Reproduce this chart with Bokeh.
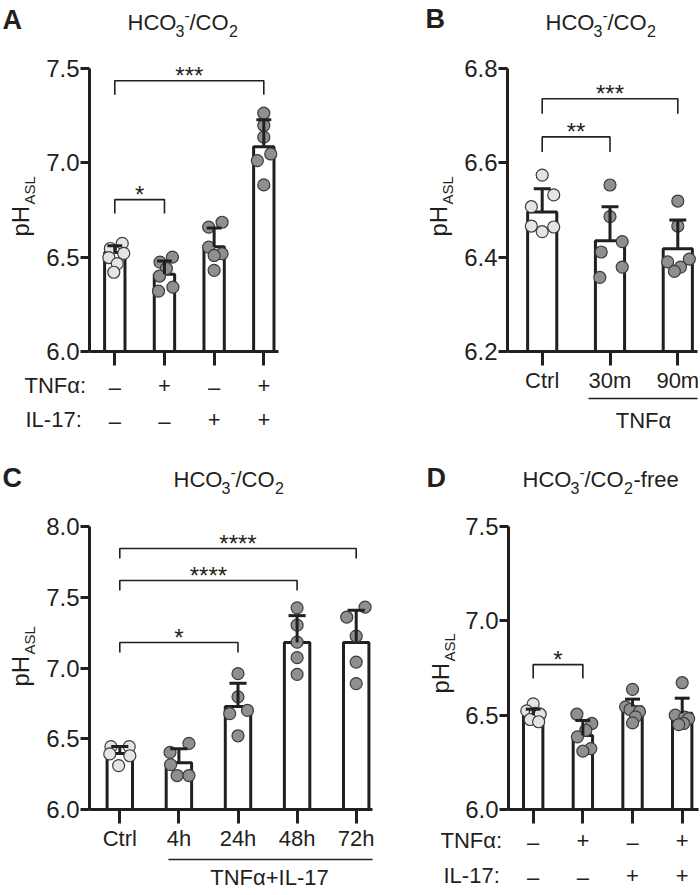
import numpy as np
from bokeh.plotting import figure
from bokeh.models import Range1d, FixedTicker, Label, NumeralTickFormatter
from bokeh.layouts import row, column
from bokeh.embed import file_html
from bokeh.resources import INLINE

FONT = "Liberation Sans"
INK = "#231f20"
LIGHT_FILL = "#e4e4e4"
DARK_FILL = "#8f8f8f"
DOT_LINE = "#3c3c3c"
MID = 0.3465  # em-box middle above the alphabetic baseline (Liberation Sans)

# ---------------- data ----------------
# Panel A
A_tnf = ["–", "+", "–", "+"]
A_il17 = ["–", "–", "+", "+"]
A_mean = [6.525, 6.410, 6.555, 7.085]
A_sd = [0.035, 0.070, 0.100, 0.143]
A_points = [
    [6.573, 6.546, 6.520, 6.498, 6.466, 6.420],
    [6.500, 6.474, 6.440, 6.400, 6.341, 6.320],
    [6.685, 6.659, 6.553, 6.518, 6.509, 6.430],
    [7.263, 7.198, 7.136, 7.047, 7.012, 6.883],
]
A_jitter = [
    [0.15, -0.09, 0.18, -0.12, 0.05, -0.02],
    [0.16, -0.09, 0.04, -0.10, 0.17, -0.12],
    [0.16, -0.11, -0.11, 0.16, 0.00, 0.00],
    [0.00, 0.00, 0.00, 0.14, -0.13, 0.00],
]
A_sig = [(1, 2, "*"), (1, 4, "***")]
A_yticks = [6.0, 6.5, 7.0, 7.5]

# Panel B
B_labels = ["Ctrl", "30m", "90m"]
B_mean = [6.496, 6.435, 6.418]
B_sd = [0.049, 0.072, 0.061]
B_points = [
    [6.574, 6.532, 6.507, 6.466, 6.454, 6.464],
    [6.553, 6.486, 6.433, 6.411, 6.379, 6.357],
    [6.519, 6.466, 6.396, 6.390, 6.379, 6.370],
]
B_jitter = [
    [0.00, 0.17, -0.16, -0.16, 0.00, 0.17],
    [0.00, 0.00, 0.18, -0.13, 0.18, -0.15],
    [0.00, 0.00, 0.17, -0.15, 0.04, -0.05],
]
B_sig = [(1, 2, "**"), (1, 3, "***")]
B_yticks = [6.2, 6.4, 6.6, 6.8]

# Panel C
C_labels = ["Ctrl", "4h", "24h", "48h", "72h"]
C_mean = [6.395, 6.330, 6.728, 7.180, 7.180]
C_sd = [0.050, 0.100, 0.165, 0.190, 0.228]
C_points = [
    [6.444, 6.444, 6.393, 6.380, 6.310],
    [6.467, 6.404, 6.317, 6.240, 6.240],
    [6.960, 6.796, 6.700, 6.678, 6.521],
    [7.425, 7.303, 7.183, 7.073, 6.955],
    [7.430, 7.359, 7.225, 7.042, 6.890],
]
C_jitter = [
    [-0.15, 0.16, -0.17, 0.17, -0.02],
    [0.17, -0.15, -0.14, -0.03, 0.17],
    [0.00, 0.00, 0.16, -0.14, 0.00],
    [0.00, 0.00, 0.00, 0.00, 0.00],
    [0.15, -0.16, 0.00, 0.00, 0.00],
]
C_sig = [(1, 3, "*"), (1, 4, "****"), (1, 5, "****")]
C_yticks = [6.0, 6.5, 7.0, 7.5, 8.0]

# Panel D
D_tnf = ["–", "+", "–", "+"]
D_il17 = ["–", "–", "+", "+"]
D_mean = [6.500, 6.392, 6.545, 6.510]
D_sd = [0.032, 0.080, 0.040, 0.080]
D_points = [
    [6.560, 6.523, 6.510, 6.505, 6.477, 6.465],
    [6.505, 6.456, 6.420, 6.385, 6.323, 6.309],
    [6.637, 6.544, 6.530, 6.518, 6.491, 6.459],
    [6.672, 6.500, 6.490, 6.482, 6.456, 6.450],
]
D_jitter = [
    [0.00, -0.13, 0.04, 0.14, -0.06, 0.11],
    [-0.12, 0.18, 0.06, -0.11, 0.16, 0.00],
    [0.00, -0.14, -0.05, 0.14, 0.06, 0.00],
    [0.00, -0.14, 0.05, 0.13, 0.03, -0.07],
]
D_sig = [(1, 2, "*")]
D_yticks = [6.0, 6.5, 7.0, 7.5]


# ---------------- layout geometry (page pixels) ----------------
class Geo:
    """Maps page pixels to data units for a figure whose frame fills its canvas."""
    def __init__(self, ox, oy, W, H, first_px, last_px, n, axis_top, axis_bottom, yr,
                 axis_left, axis_right):
        self.ox, self.oy, self.W, self.H = ox, oy, W, H
        self.first = first_px
        self.sp = (last_px - first_px) / (n - 1)
        self.y0, self.y1 = yr
        self.axis_bottom = axis_bottom
        self.ppu = (axis_bottom - axis_top) / (self.y1 - self.y0)
        self.axis_left, self.axis_right = axis_left, axis_right

    def X(self, px):
        return 1 + (px - self.first) / self.sp

    def Y(self, py):
        return self.y0 + (self.axis_bottom - py) / self.ppu


def label(p, g, px, py, text, size, align="left", bold=False, rotated=False):
    """px, py: start/center x and alphabetic baseline (page px)."""
    if rotated:
        ax, ay, angle = px - MID * size, py, np.pi / 2
    else:
        ax, ay, angle = px, py - MID * size, 0.0
    p.add_layout(Label(x=g.X(ax), y=g.Y(ay), x_units="data", y_units="data", text=text,
                       text_font=FONT, text_font_size=f"{size}px",
                       text_font_style="bold" if bold else "normal",
                       text_align=align, text_baseline="middle", angle=angle,
                       text_color=INK))


def title(p, g, px, py, free=False):
    label(p, g, px, py, "HCO", 22)
    label(p, g, px + 48, py + 6, "3", 16)
    label(p, g, px + 57, py - 10, "-", 16)
    label(p, g, px + 62, py, "/CO", 22)
    label(p, g, px + 101.5, py + 6, "2", 16)
    if free:
        label(p, g, px + 111, py, "-free", 22)


def ph_label(p, g, px, py):
    label(p, g, px, py, "pH", 24, rotated=True)
    label(p, g, px + 6, py - 32, "ASL", 15, rotated=True)


def build(g, yticks, means, sds, points, jitter, sig, brk_y, drop_px, bar_w, cap_h, xlabels=None):
    n = len(means)
    cats = list(range(1, n + 1))
    p = figure(width=g.W, height=g.H, output_backend="svg", toolbar_location=None,
               x_range=Range1d(g.X(g.ox), g.X(g.ox + g.W)),
               y_range=Range1d(g.Y(g.oy + g.H), g.Y(g.oy)),
               min_border=0, min_border_left=0, min_border_right=0,
               min_border_top=0, min_border_bottom=0)
    p.title.visible = False
    p.outline_line_color = None
    p.xgrid.visible = False
    p.ygrid.visible = False
    p.background_fill_color = "white"
    p.border_fill_color = "white"

    ya = p.yaxis[0]
    ya.fixed_location = g.X(g.axis_left)
    ya.bounds = (g.y0, g.y1)
    ya.ticker = FixedTicker(ticks=yticks)
    ya.formatter = NumeralTickFormatter(format="0.0")
    ya.axis_line_width = 3
    ya.axis_line_color = INK
    ya.major_tick_line_width = 3
    ya.major_tick_line_color = INK
    ya.major_tick_in = 0
    ya.major_tick_out = 9
    ya.minor_tick_line_color = None
    ya.major_label_text_font = FONT
    ya.major_label_text_font_size = "24px"
    ya.major_label_text_color = INK
    ya.major_label_standoff = 1

    xa = p.xaxis[0]
    xa.fixed_location = g.y0
    xa.bounds = (g.X(g.axis_left), g.X(g.axis_right))
    xa.ticker = FixedTicker(ticks=cats)
    xa.axis_line_width = 3
    xa.axis_line_color = INK
    xa.major_tick_line_width = 3
    xa.major_tick_line_color = INK
    xa.major_tick_in = 0
    xa.major_tick_out = 14
    xa.minor_tick_line_color = None
    xa.major_label_text_font = FONT
    xa.major_label_text_font_size = "22px"
    xa.major_label_text_color = INK
    xa.major_label_standoff = 2
    if xlabels is None:
        xa.major_label_overrides = {c: "" for c in cats}
    else:
        xa.major_label_overrides = {c: t for c, t in zip(cats, xlabels)}

    p.vbar(x=cats, top=means, bottom=g.y0, width=bar_w, fill_color="white",
           line_color=INK, line_width=3)
    for i, (vals, jit) in enumerate(zip(points, jitter)):
        xs = [cats[i] + j for j in jit]
        p.scatter(xs, vals, size=12, marker="circle",
                  fill_color=LIGHT_FILL if i == 0 else DARK_FILL,
                  line_color=DOT_LINE, line_width=1.2)
    tops = [m + s for m, s in zip(means, sds)]
    p.segment(x0=cats, y0=means, x1=cats, y1=tops, line_color=INK, line_width=3)
    p.segment(x0=[c - cap_h for c in cats], y0=tops, x1=[c + cap_h for c in cats], y1=tops,
              line_color=INK, line_width=3)

    drop = drop_px / g.ppu
    for (a, b, stars), y in zip(sig, brk_y):
        p.multi_line(xs=[[a, a, b, b]], ys=[[y - drop, y, y, y - drop]],
                     line_color=INK, line_width=1.6)
        p.add_layout(Label(x=(a + b) / 2, y=y + 5 / g.ppu, text=stars, text_font=FONT,
                           text_font_size="24px", text_align="center",
                           text_baseline="middle", text_color=INK))
    return p


def underline(p, g, px0, px1, py):
    p.segment(x0=[g.X(px0)], y0=[g.Y(py)], x1=[g.X(px1)], y1=[g.Y(py)],
              line_color=INK, line_width=1.5)


def cat_px(g, i):
    return g.first + i * g.sp


# ---------------- Panel A ----------------
gA = Geo(0, 0, 350, 446, 114.3, 263.3, 4, 68, 351, (6.0, 7.5), 89, 278)
pA = build(gA, A_yticks, A_mean, A_sd, A_points, A_jitter, A_sig, [6.805, 7.435], 14, 0.41, 0.15)
label(pA, gA, 2, 29, "A", 27, bold=True)
title(pA, gA, 127, 30)
ph_label(pA, gA, 28, 236)
label(pA, gA, 24, 393, "TNFα:", 22)
label(pA, gA, 25, 427, "IL-17:", 22)
for i, (s1, s2) in enumerate(zip(A_tnf, A_il17)):
    label(pA, gA, cat_px(gA, i), 393 + (2 if s1 == "–" else 0), s1, 22, align="center")
    label(pA, gA, cat_px(gA, i), 427 + (2 if s2 == "–" else 0), s2, 22, align="center")

# ---------------- Panel B ----------------
gB = Geo(350, 0, 350, 446, 541.7, 677.3, 3, 68, 351, (6.2, 6.8), 507, 697)
pB = build(gB, B_yticks, B_mean, B_sd, B_points, B_jitter, B_sig, [6.655, 6.736], 15, 0.43, 0.125,
           xlabels=B_labels)
label(pB, gB, 425, 28, "B", 27, bold=True)
title(pB, gB, 545, 30)
ph_label(pB, gB, 446, 236)
underline(pB, gB, 588, 697, 398)
label(pB, gB, 643, 428, "TNFα", 22, align="center")

# ---------------- Panel C ----------------
gC = Geo(0, 446, 400, 447, 119.3, 355.7, 5, 526, 809, (6.0, 8.0), 89, 372)
pC = build(gC, C_yticks, C_mean, C_sd, C_points, C_jitter, C_sig, [7.18, 7.618, 7.845], 10, 0.43, 0.145,
           xlabels=C_labels)
label(pC, gC, 2, 487, "C", 27, bold=True)
title(pC, gC, 173, 487)
ph_label(pC, gC, 28, 686)
underline(pC, gC, 168, 372, 859)
label(pC, gC, 269, 885, "TNFα+IL-17", 22, align="center")

# ---------------- Panel D ----------------
gD = Geo(400, 446, 300, 447, 532.7, 681.7, 4, 526, 809, (6.0, 7.5), 508, 698)
pD = build(gD, D_yticks, D_mean, D_sd, D_points, D_jitter, D_sig, [6.768], 14, 0.39, 0.15)
label(pD, gD, 426, 487, "D", 27, bold=True)
title(pD, gD, 522, 487, free=True)
ph_label(pD, gD, 448, 693)
label(pD, gD, 440, 848, "TNFα:", 22)
label(pD, gD, 443, 883, "IL-17:", 22)
for i, (s1, s2) in enumerate(zip(D_tnf, D_il17)):
    label(pD, gD, cat_px(gD, i), 848 + (2 if s1 == "–" else 0), s1, 22, align="center")
    label(pD, gD, cat_px(gD, i), 883 + (2 if s2 == "–" else 0), s2, 22, align="center")

layout = column(row(pA, pB), row(pC, pD))
open("out.html", "w").write(file_html(layout, INLINE))
